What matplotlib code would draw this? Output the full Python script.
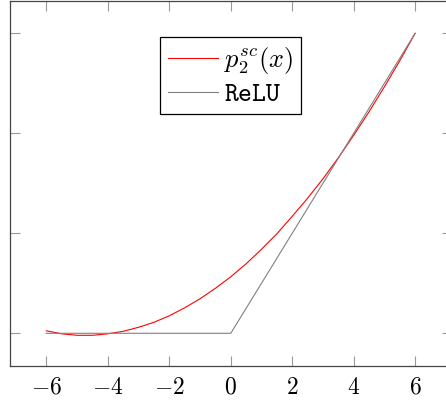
import matplotlib
matplotlib.use("Agg")
import matplotlib.pyplot as plt

plt.rcParams["mathtext.fontset"] = "cm"
plt.rcParams["font.family"] = "DejaVu Serif"

# values
x_vals = [-6.0, -5.5, -5.0, -4.5, -4.0, -3.5, -3.0, -2.5, -2.0, -1.5, -1.0, -0.5,
          0.0, 0.5, 1.0, 1.5, 2.0, 2.5, 3.0, 3.5, 4.0, 4.5, 5.0, 5.5, 6.0]
p2_vals = [0.05, -0.01, -0.04, -0.04, -0.01, 0.04, 0.12, 0.22, 0.35, 0.51, 0.69, 0.90,
           1.13, 1.39, 1.68, 1.99, 2.34, 2.70, 3.09, 3.51, 3.96, 4.43, 4.93, 5.45, 6.0]
relu_x = [-6, 0, 6]
relu_y = [0, 0, 6]
xticks = [-6, -4, -2, 0, 2, 4, 6]
yticks = [0, 2, 4, 6]

fig = plt.figure(figsize=(4.46, 4.0), dpi=100)
ax = fig.add_axes([9.5 / 446, 34 / 400, 442.5 / 446, 365 / 400])

ax.plot(x_vals, p2_vals, color="red", lw=0.8, label=r"$p_2^{sc}(x)$")
ax.plot(relu_x, relu_y, color="#808080", lw=0.8, label=r"$\mathtt{ReLU}$")

ax.set_xlim(-7.2, 7.2)
ax.set_ylim(-0.654, 6.646)
ax.set_xticks(xticks)
ax.set_xticklabels([f"${t}$" for t in xticks])
ax.set_yticks(yticks)
ax.set_yticklabels([])
ax.tick_params(direction="in", length=7.5, width=0.8, color="#999999",
               top=True, right=True, labelsize=17, pad=7)
for s in ax.spines.values():
    s.set_color("#444444")
    s.set_linewidth(0.9)

leg = ax.legend(loc="upper center", bbox_to_anchor=(0.4994, 0.901), fontsize=19,
                fancybox=False, framealpha=1, edgecolor="black", handlelength=1.9,
                handletextpad=0.25, borderpad=0.3, labelspacing=0.2,
                borderaxespad=0)
leg.get_frame().set_linewidth(0.9)

fig.savefig("out.png", dpi=100)
